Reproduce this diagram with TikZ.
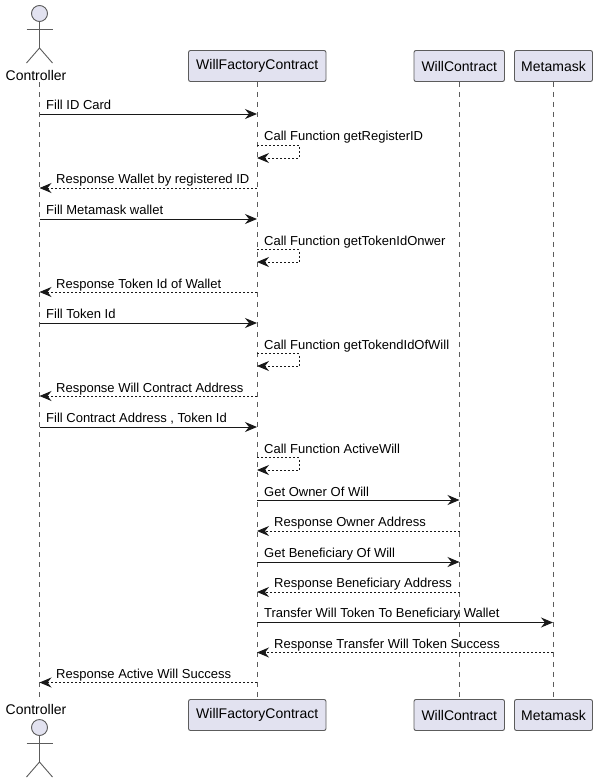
\documentclass[tikz,border=0pt]{standalone}
\usepackage{fontspec}
\setmainfont{Liberation Sans}
\usetikzlibrary{arrows.meta}
\definecolor{partfill}{HTML}{E2E2F0}
\definecolor{partline}{HTML}{5C5C5C}
\definecolor{msgline}{HTML}{181818}
\begin{document}
\begin{tikzpicture}[x=1pt, y=-1pt,
	part/.style = {draw=partline, fill=partfill, rounded corners=2pt, line width=0.9pt, minimum height=31pt, inner sep=0pt, font=\fontsize{14}{16}\selectfont},
	actorlabel/.style = {inner sep=0pt, font=\fontsize{14}{16}\selectfont},
	limb/.style = {draw=partline, line width=0.9pt},
	life/.style = {draw=partline, line width=0.8pt, dash pattern=on 5pt off 5pt},
	msg/.style = {draw=msgline, line width=1pt, -{Stealth[length=12pt, width=10pt, inset=4pt]}},
	reply/.style = {msg, dash pattern=on 2pt off 2pt},
	lbl/.style = {anchor=base west, inner sep=0pt, font=\fontsize{13}{15}\selectfont}]
	\useasboundingbox (0,0) rectangle (597,782);
	% top row
	\node[part, minimum width=137.5pt] (ftop) at (257.25,66) {WillFactoryContract};
	\node[part, minimum width=90.5pt] (wtop) at (459.25,66) {WillContract};
	\node[part, minimum width=78pt] (mtop) at (553.5,66) {Metamask};
	\node[actorlabel] (ctop) at (36,75) {Controller};
	% bottom row
	\node[part, minimum width=137.5pt] (fbot) at (257.25,715) {WillFactoryContract};
	\node[part, minimum width=90.5pt] (wbot) at (459.25,715) {WillContract};
	\node[part, minimum width=78pt] (mbot) at (553.5,715) {Metamask};
	\node[actorlabel] (cbot) at (36,709) {Controller};
	% actors
	\node[draw=partline, fill=partfill, circle, line width=0.9pt, minimum size=16pt, inner sep=0pt] (htop) at (39.5,13.5) {};
	\coordinate (ntop) at (39.5,48);
	\coordinate (ltop) at (26.5,63);
	\coordinate (rtop) at (52.5,63);
	\coordinate (atop) at (26.5,29);
	\coordinate (btop) at (52.5,29);
	\draw[limb] (htop) -- (ntop);
	\draw[limb] (atop) -- (btop);
	\draw[limb] (ltop) -- (ntop) -- (rtop);
	\node[draw=partline, fill=partfill, circle, line width=0.9pt, minimum size=16pt, inner sep=0pt] (hbot) at (39.5,727.5) {};
	\coordinate (nbot) at (39.5,762);
	\coordinate (lbot) at (26.5,777);
	\coordinate (rbot) at (52.5,777);
	\coordinate (abot) at (26.5,743);
	\coordinate (bbot) at (52.5,743);
	\draw[limb] (hbot) -- (nbot);
	\draw[limb] (abot) -- (bbot);
	\draw[limb] (lbot) -- (nbot) -- (rbot);
	% lifelines
	\coordinate (cl1) at (39.5,82);
	\coordinate (cl2) at (39.5,698);
	\draw[life] (cl1) -- (cl2);
	\draw[life] (ftop) -- (fbot);
	\draw[life] (wtop) -- (wbot);
	\draw[life] (mtop) -- (mbot);
	% message ends
	\coordinate (c1) at (39.5,114);
	\coordinate (f1) at (257,114);
	\coordinate (f2) at (257,145);
	\coordinate (s2) at (299,145);
	\coordinate (t2) at (299,158);
	\coordinate (g2) at (257,158);
	\coordinate (f3) at (257,188);
	\coordinate (c3) at (39.5,188);
	\coordinate (c4) at (39.5,219);
	\coordinate (f4) at (257,219);
	\coordinate (f5) at (257,249.5);
	\coordinate (s5) at (299,249.5);
	\coordinate (t5) at (299,262);
	\coordinate (g5) at (257,262);
	\coordinate (f6) at (257,292);
	\coordinate (c6) at (39.5,292);
	\coordinate (c7) at (39.5,323);
	\coordinate (f7) at (257,323);
	\coordinate (f8) at (257,353.5);
	\coordinate (s8) at (299,353.5);
	\coordinate (t8) at (299,366);
	\coordinate (g8) at (257,366);
	\coordinate (f9) at (257,396);
	\coordinate (c9) at (39.5,396);
	\coordinate (c10) at (39.5,427);
	\coordinate (f10) at (257,427);
	\coordinate (f11) at (257,457.5);
	\coordinate (s11) at (299,457.5);
	\coordinate (t11) at (299,470);
	\coordinate (g11) at (257,470);
	\coordinate (f12) at (257,500);
	\coordinate (w12) at (459.5,500);
	\coordinate (w13) at (459.5,531);
	\coordinate (f13) at (257,531);
	\coordinate (f14) at (257,562);
	\coordinate (w14) at (459.5,562);
	\coordinate (w15) at (459.5,592);
	\coordinate (f15) at (257,592);
	\coordinate (f16) at (257,622.5);
	\coordinate (m16) at (553,622.5);
	\coordinate (m17) at (553,652.5);
	\coordinate (f17) at (257,652.5);
	\coordinate (f18) at (257,682.5);
	\coordinate (c18) at (39.5,682.5);
	% messages
	\draw[msg] (c1) -- (f1);
	\draw[reply] (f2) -- (s2) -- (t2) -- (g2);
	\draw[reply] (f3) -- (c3);
	\draw[msg] (c4) -- (f4);
	\draw[reply] (f5) -- (s5) -- (t5) -- (g5);
	\draw[reply] (f6) -- (c6);
	\draw[msg] (c7) -- (f7);
	\draw[reply] (f8) -- (s8) -- (t8) -- (g8);
	\draw[reply] (f9) -- (c9);
	\draw[msg] (c10) -- (f10);
	\draw[reply] (f11) -- (s11) -- (t11) -- (g11);
	\draw[msg] (f12) -- (w12);
	\draw[reply] (w13) -- (f13);
	\draw[msg] (f14) -- (w14);
	\draw[reply] (w15) -- (f15);
	\draw[msg] (f16) -- (m16);
	\draw[reply] (m17) -- (f17);
	\draw[reply] (f18) -- (c18);
	% labels
	\node[lbl] (t1) at (46,109) {Fill ID Card};
	\node[lbl] (t2l) at (264,140) {Call Function getRegisterID};
	\node[lbl] (t3) at (56,183.5) {Response Wallet by registered ID};
	\node[lbl] (t4) at (46,214) {Fill Metamask wallet};
	\node[lbl] (t5l) at (264,245) {Call Function getTokenIdOnwer};
	\node[lbl] (t6) at (56,288) {Response Token Id of Wallet};
	\node[lbl] (t7) at (46,318) {Fill Token Id};
	\node[lbl] (t8l) at (264,349) {Call Function getTokendIdOfWill};
	\node[lbl] (t9) at (56,392) {Response Will Contract Address};
	\node[lbl] (t10) at (46,422) {Fill Contract Address , Token Id};
	\node[lbl] (t11l) at (264,453) {Call Function ActiveWill};
	\node[lbl] (t12) at (264,496) {Get Owner Of Will};
	\node[lbl] (t13) at (274,526) {Response Owner Address};
	\node[lbl] (t14) at (264,557) {Get Beneficiary Of Will};
	\node[lbl] (t15) at (274,587) {Response Beneficiary Address};
	\node[lbl] (t16) at (264,617) {Transfer Will Token To Beneficiary Wallet};
	\node[lbl] (t17) at (274,648) {Response Transfer Will Token Success};
	\node[lbl] (t18) at (56,678) {Response Active Will Success};
\end{tikzpicture}
\end{document}
